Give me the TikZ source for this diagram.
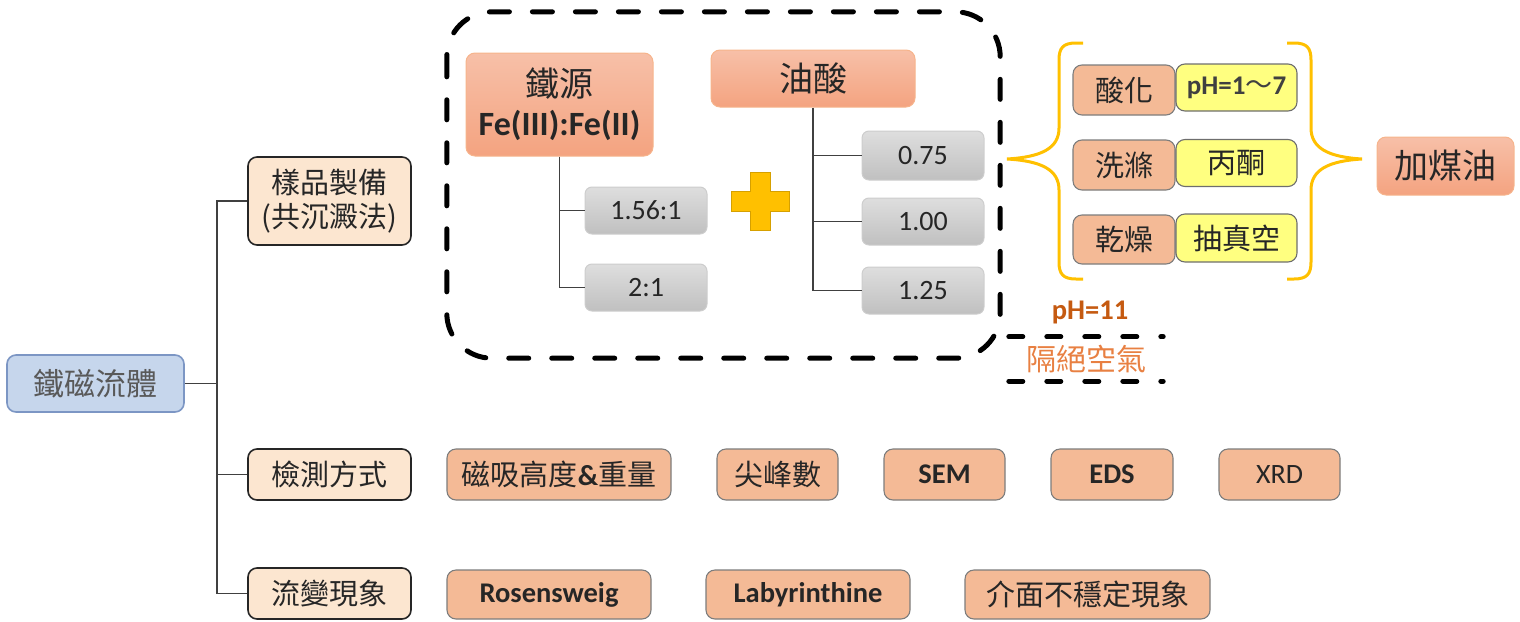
\documentclass[tikz,border=0pt]{standalone}
\usepackage{fontspec}
\setmainfont{Carlito}
\newfontfamily\cjk{Noto Sans CJK TC}
\definecolor{txt}{RGB}{38,38,38}
\definecolor{lnk}{RGB}{64,64,64}
\definecolor{blueF}{RGB}{198,214,236}
\definecolor{blueD}{RGB}{124,150,196}
\definecolor{beige}{RGB}{252,230,208}
\definecolor{salm}{RGB}{244,186,150}
\definecolor{salmD}{RGB}{125,125,125}
\definecolor{grTop}{RGB}{222,222,222}
\definecolor{grBot}{RGB}{192,192,192}
\definecolor{grD}{RGB}{205,205,205}
\definecolor{orTop}{RGB}{247,192,168}
\definecolor{orBot}{RGB}{244,163,128}
\definecolor{orD}{RGB}{246,180,140}
\definecolor{yel}{RGB}{255,255,128}
\definecolor{gold}{RGB}{255,192,0}
\definecolor{goldD}{RGB}{214,160,0}
\definecolor{rust}{RGB}{197,90,17}
\definecolor{orTxt}{RGB}{232,128,66}
\tikzset{
  x=1pt, y=-1pt,
  base/.style={rounded corners=9pt, inner sep=0pt, align=center, text=txt},
  rootbox/.style={base, fill=blueF, draw=blueD, line width=1.6pt, text={rgb,255:red,89;green,89;blue,89}},
  catbox/.style={base, fill=beige, draw=txt, line width=1.6pt},
  leafbox/.style={base, fill=salm, draw=salmD, line width=1.1pt},
  headbox/.style={base, top color=orTop, bottom color=orBot, draw=orD, line width=1pt},
  graybox/.style={base, rounded corners=7pt, top color=grTop, bottom color=grBot, draw=grD, line width=1pt},
  ylwbox/.style={base, fill=yel, draw={rgb,255:red,110;green,110;blue,110}, line width=1.1pt},
  link/.style={draw=lnk, line width=1.3pt},
  bigdash/.style={draw=black, line width=5pt, line cap=round, dash pattern=on 20pt off 23pt},
  brace/.style={draw=gold, line width=3pt},
  fc/.style={font=\cjk\fontsize{29}{35}\selectfont},
  fcbig/.style={font=\cjk\fontsize{34}{38}\selectfont},
  fl/.style={font=\fontsize{28}{30}\selectfont},
  flb/.style={font=\bfseries\fontsize{28.5}{30}\selectfont},
}
\begin{document}
\begin{tikzpicture}
\useasboundingbox (0,0) rectangle (1520,621);
% root and categories
\node[rootbox, font=\cjk\fontsize{31}{34}\selectfont, minimum width=177pt, minimum height=57pt] (ferro) at (95.5,383.5) {鐵磁流體};
\node[catbox, fc, minimum width=163pt, minimum height=88pt] (prep) at (329.5,201) {樣品製備\\[-1pt](共沉澱法)};
\node[catbox, fc, minimum width=163pt, minimum height=51pt] (detect) at (329.5,474.5) {檢測方式};
\node[catbox, fc, minimum width=163pt, minimum height=51pt] (rheo) at (329.5,593.5) {流變現象};
\coordinate (tj) at (217,0);
\draw[link] (ferro.east) -- (ferro.east -| tj);
\draw[link] (prep.west) -- (prep.west -| tj) -- (rheo.west -| tj) -- (rheo.west);
\draw[link] (detect.west) -- (detect.west -| tj);
% detection methods
\node[leafbox, minimum width=224pt, minimum height=51pt] (m1) at (559,474.5) {{\cjk\fontsize{29}{34}\selectfont 磁吸高度}{\bfseries\fontsize{29}{34}\selectfont\&}{\cjk\fontsize{29}{34}\selectfont 重量}};
\node[leafbox, fc, minimum width=121pt, minimum height=51pt] (m2) at (777.5,474.5) {尖峰數};
\node[leafbox, flb, minimum width=121pt, minimum height=51pt] (m3) at (944.5,474.5) {SEM};
\node[leafbox, flb, minimum width=122pt, minimum height=51pt] (m4) at (1112,474.5) {EDS};
\node[leafbox, fl, minimum width=121pt, minimum height=51pt] (m5) at (1279.5,474.5) {XRD};
% rheology
\node[leafbox, flb, minimum width=204pt, minimum height=49pt] (r1) at (549,594.5) {Rosensweig};
\node[leafbox, flb, minimum width=204pt, minimum height=49pt] (r2) at (808,594.5) {Labyrinthine};
\node[leafbox, fc, minimum width=245pt, minimum height=49pt] (r3) at (1087.5,594.5) {介面不穩定現象};
% preparation group
\node[draw=none, minimum width=553pt, minimum height=346pt, inner sep=0pt] (grp) at (723.5,185) {};
\draw[bigdash, rounded corners=45pt] (grp.north west) rectangle (grp.south east);
\node[headbox, minimum width=187pt, minimum height=103pt] (fe) at (559.5,104.5) {{\cjk\fontsize{34}{36}\selectfont 鐵源}\\[10pt]{\bfseries\fontsize{34}{36}\selectfont Fe(III):Fe(II)}};
\node[headbox, fcbig, minimum width=204pt, minimum height=57pt] (oa) at (813,78.5) {油酸};
\node[graybox, fl, minimum width=122pt, minimum height=47pt] (g1) at (646,210.5) {1.56:1};
\node[graybox, fl, minimum width=122pt, minimum height=47pt] (g2) at (646,287.5) {2:1};
\node[graybox, fl, minimum width=122pt, minimum height=49pt] (g3) at (923,155.5) {0.75};
\node[graybox, fl, minimum width=122pt, minimum height=47pt] (g4) at (923,221.5) {1.00};
\node[graybox, fl, minimum width=122pt, minimum height=47pt] (g5) at (923,290.5) {1.25};
\draw[link] (fe.south) -- (fe.south |- g2.west) -- (g2.west);
\draw[link] (fe.south |- g1.west) -- (g1.west);
\draw[link] (oa.south) -- (oa.south |- g5.west) -- (g5.west);
\draw[link] (oa.south |- g3.west) -- (g3.west);
\draw[link] (oa.south |- g4.west) -- (g4.west);
% plus sign
\draw[fill=gold, draw=goldD, line width=1pt] (750,172) -- (770,172) -- (770,191) -- (789,191) -- (789,211) -- (770,211) -- (770,230) -- (750,230) -- (750,211) -- (731,211) -- (731,191) -- (750,191) -- cycle;
% post-treatment
\node[leafbox, fc, minimum width=102pt, minimum height=50pt] (s1) at (1124,90) {酸化};
\node[ylwbox, minimum width=121pt, minimum height=47pt, text={rgb,255:red,64;green,64;blue,64}] (y1) at (1236.5,87.5) {{\bfseries\fontsize{27}{30}\selectfont pH=1}{\cjk\fontsize{27}{30}\selectfont ～}{\bfseries\fontsize{27}{30}\selectfont 7}};
\node[leafbox, fc, minimum width=102pt, minimum height=50pt] (s2) at (1124,165) {洗滌};
\node[ylwbox, fc, minimum width=121pt, minimum height=47pt] (y2) at (1236.5,163) {丙酮};
\node[leafbox, fc, minimum width=102pt, minimum height=49pt] (s3) at (1124,239.5) {乾燥};
\node[ylwbox, fc, minimum width=121pt, minimum height=48pt] (y3) at (1236.5,238) {抽真空};
\node[headbox, fcbig, minimum width=137pt, minimum height=58pt] (kero) at (1445.5,166) {加煤油};
% braces
\draw[brace] (1083,43) -- (1076,43) .. controls (1063,43) and (1059,48) .. (1059,60) -- (1059,128) .. controls (1059,148) and (1042,157) .. (1007,159) .. controls (1042,161) and (1059,170) .. (1059,190) -- (1059,262) .. controls (1059,274) and (1063,279) .. (1076,279) -- (1083,279);
\draw[brace] (1287,43) -- (1294,43) .. controls (1307,43) and (1311,48) .. (1311,60) -- (1311,128) .. controls (1311,148) and (1328,157) .. (1362,159) .. controls (1328,161) and (1311,170) .. (1311,190) -- (1311,262) .. controls (1311,274) and (1307,279) .. (1294,279) -- (1287,279);
% pH=11 and isolation
\node[text=rust, flb, inner sep=0pt] (ph11) at (1090,312) {pH=11};
\node[text=orTxt, font=\cjk\fontsize{30}{34}\selectfont, inner sep=0pt, minimum width=154pt, minimum height=44pt] (iso) at (1086,359) {隔絕空氣};
\draw[draw=black, line width=5pt, line cap=round, dash pattern=on 14pt off 24pt] (iso.north west) -- (iso.north east);
\draw[draw=black, line width=5pt, line cap=round, dash pattern=on 14pt off 24pt] (iso.south west) -- (iso.south east);
\end{tikzpicture}
\end{document}
